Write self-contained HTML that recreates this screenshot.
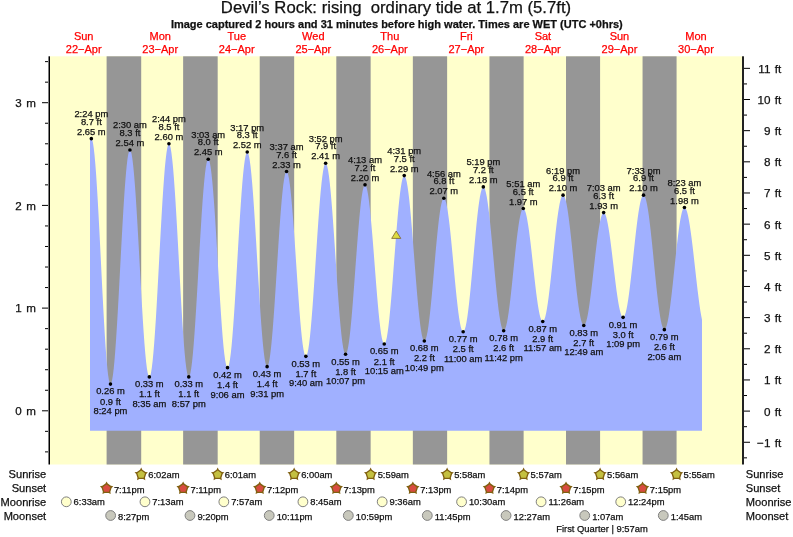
<!DOCTYPE html>
<html><head><meta charset="utf-8"><style>html,body{margin:0;padding:0;background:#fff;width:793px;height:537px;overflow:hidden;position:relative}svg{display:block;position:absolute;left:0;top:0}text{font-family:"Liberation Sans",sans-serif}#tx{will-change:transform}#tx text{stroke-width:0.25px}</style></head>
<body><svg width="793" height="537" viewBox="0 0 793 537">
<rect x="50" y="56.3" width="692" height="408.2" fill="#FFFFCC"/>
<rect x="106.60" y="56.3" width="34.60" height="408.2" fill="#969696"/>
<rect x="183.13" y="56.3" width="34.55" height="408.2" fill="#969696"/>
<rect x="259.72" y="56.3" width="34.44" height="408.2" fill="#969696"/>
<rect x="336.31" y="56.3" width="34.33" height="408.2" fill="#969696"/>
<rect x="412.85" y="56.3" width="34.28" height="408.2" fill="#969696"/>
<rect x="489.44" y="56.3" width="34.18" height="408.2" fill="#969696"/>
<rect x="566.02" y="56.3" width="34.07" height="408.2" fill="#969696"/>
<rect x="642.56" y="56.3" width="34.02" height="408.2" fill="#969696"/>
<polygon points="90.00,430.70 90.00,138.65 91.34,138.65 92.14,139.69 92.94,142.83 93.73,147.99 94.53,155.09 95.33,164.01 96.13,174.59 96.92,186.66 97.72,200.01 98.52,214.41 99.31,229.61 100.11,245.35 100.91,261.37 101.71,277.39 102.50,293.14 103.30,308.34 104.10,322.73 104.89,336.08 105.69,348.15 106.49,358.74 107.29,367.66 108.08,374.76 108.88,379.92 109.68,383.05 110.48,384.10 111.29,383.10 112.10,380.11 112.91,375.19 113.72,368.41 114.53,359.90 115.34,349.81 116.15,338.29 116.96,325.56 117.77,311.82 118.58,297.32 119.39,282.30 120.20,267.02 121.01,251.74 121.82,236.72 122.63,222.22 123.44,208.48 124.25,195.75 125.07,184.23 125.88,174.14 126.69,165.63 127.50,158.85 128.31,153.93 129.12,150.94 129.93,149.94 130.74,150.91 131.55,153.81 132.35,158.58 133.16,165.15 133.97,173.39 134.78,183.18 135.59,194.34 136.40,206.68 137.20,220.00 138.01,234.05 138.82,248.61 139.63,263.43 140.44,278.24 141.25,292.80 142.05,306.85 142.86,320.17 143.67,332.51 144.48,343.67 145.29,353.46 146.09,361.71 146.90,368.27 147.71,373.04 148.52,375.94 149.33,376.91 150.15,375.91 150.96,372.94 151.78,368.04 152.60,361.29 153.41,352.82 154.23,342.77 155.05,331.30 155.87,318.63 156.68,304.95 157.50,290.51 158.32,275.56 159.13,260.34 159.95,245.13 160.77,230.18 161.59,215.74 162.40,202.06 163.22,189.38 164.04,177.92 164.85,167.87 165.67,159.40 166.49,152.65 167.31,147.75 168.12,144.78 168.94,143.78 169.77,144.78 170.59,147.75 171.42,152.65 172.24,159.40 173.07,167.87 173.90,177.92 174.72,189.38 175.55,202.06 176.37,215.74 177.20,230.18 178.03,245.13 178.85,260.34 179.68,275.56 180.51,290.51 181.33,304.95 182.16,318.63 182.98,331.30 183.81,342.77 184.64,352.82 185.46,361.29 186.29,368.04 187.11,372.94 187.94,375.91 188.77,376.91 189.58,375.98 190.39,373.20 191.20,368.62 192.01,362.32 192.82,354.41 193.63,345.02 194.44,334.32 195.25,322.48 196.06,309.71 196.87,296.22 197.68,282.26 198.49,268.05 199.30,253.84 200.11,239.87 200.92,226.39 201.73,213.62 202.54,201.78 203.36,191.07 204.17,181.68 204.98,173.77 205.79,167.47 206.60,162.89 207.41,160.12 208.22,159.18 209.02,160.08 209.83,162.74 210.63,167.12 211.43,173.15 212.24,180.73 213.04,189.72 213.85,199.97 214.65,211.31 215.45,223.53 216.26,236.45 217.06,249.82 217.87,263.43 218.67,277.03 219.47,290.40 220.28,303.32 221.08,315.55 221.88,326.88 222.69,337.13 223.49,346.13 224.30,353.70 225.10,359.73 225.90,364.11 226.71,366.77 227.51,367.67 228.33,366.74 229.16,363.99 229.98,359.46 230.80,353.22 231.62,345.38 232.44,336.08 233.26,325.48 234.08,313.75 234.91,301.10 235.73,287.74 236.55,273.91 237.37,259.83 238.19,245.76 239.01,231.92 239.84,218.56 240.66,205.91 241.48,194.19 242.30,183.58 243.12,174.28 243.94,166.44 244.77,160.20 245.59,155.67 246.41,152.92 247.23,152.00 248.06,152.91 248.89,155.65 249.72,160.17 250.54,166.37 251.37,174.17 252.20,183.43 253.03,193.98 253.86,205.66 254.68,218.25 255.51,231.54 256.34,245.31 257.17,259.32 258.00,273.33 258.83,287.09 259.65,300.39 260.48,312.98 261.31,324.65 262.14,335.21 262.97,344.46 263.80,352.26 264.62,358.47 265.45,362.98 266.28,365.72 267.11,366.64 267.92,365.80 268.73,363.31 269.54,359.21 270.35,353.57 271.16,346.48 271.97,338.06 272.78,328.47 273.59,317.86 274.40,306.41 275.21,294.33 276.02,281.81 276.84,269.07 277.65,256.34 278.46,243.82 279.27,231.74 280.08,220.29 280.89,209.68 281.70,200.09 282.51,191.67 283.32,184.58 284.13,178.94 284.94,174.83 285.75,172.34 286.56,171.51 287.37,172.30 288.17,174.66 288.97,178.54 289.78,183.89 290.58,190.61 291.38,198.58 292.19,207.67 292.99,217.72 293.80,228.57 294.60,240.02 295.40,251.87 296.21,263.94 297.01,276.00 297.82,287.86 298.62,299.31 299.42,310.15 300.23,320.21 301.03,329.30 301.84,337.27 302.64,343.99 303.44,349.33 304.25,353.22 305.05,355.58 305.86,356.37 306.68,355.54 307.50,353.08 308.33,349.02 309.15,343.44 309.97,336.42 310.80,328.09 311.62,318.60 312.45,308.10 313.27,296.77 314.09,284.82 314.92,272.43 315.74,259.83 316.56,247.23 317.39,234.85 318.21,222.89 319.04,211.56 319.86,201.06 320.68,191.57 321.51,183.24 322.33,176.23 323.16,170.64 323.98,166.58 324.80,164.12 325.63,163.29 326.46,164.11 327.29,166.55 328.12,170.56 328.95,176.09 329.78,183.03 330.61,191.27 331.44,200.66 332.27,211.05 333.10,222.25 333.93,234.08 334.76,246.34 335.59,258.80 336.42,271.27 337.25,283.52 338.08,295.35 338.91,306.56 339.74,316.95 340.58,326.34 341.41,334.58 342.24,341.52 343.07,347.04 343.90,351.06 344.73,353.50 345.56,354.31 346.37,353.59 347.18,351.43 347.99,347.87 348.80,342.96 349.61,336.81 350.42,329.50 351.23,321.17 352.04,311.95 352.85,302.01 353.66,291.52 354.47,280.65 355.28,269.59 356.10,258.53 356.91,247.66 357.72,237.16 358.53,227.22 359.34,218.01 360.15,209.68 360.96,202.37 361.77,196.21 362.58,191.31 363.39,187.75 364.20,185.58 365.01,184.86 365.81,185.54 366.61,187.57 367.42,190.92 368.22,195.52 369.02,201.31 369.82,208.17 370.62,216.00 371.42,224.66 372.23,233.99 373.03,243.85 373.83,254.06 374.63,264.45 375.43,274.84 376.23,285.05 377.04,294.91 377.84,304.25 378.64,312.91 379.44,320.73 380.24,327.60 381.04,333.38 381.85,337.99 382.65,341.33 383.45,343.36 384.25,344.05 385.08,343.32 385.92,341.18 386.75,337.63 387.58,332.76 388.41,326.64 389.25,319.38 390.08,311.10 390.91,301.94 391.75,292.06 392.58,281.63 393.41,270.82 394.24,259.83 395.08,248.84 395.91,238.03 396.74,227.60 397.57,217.72 398.41,208.56 399.24,200.28 400.07,193.02 400.90,186.90 401.74,182.03 402.57,178.49 403.40,176.34 404.24,175.62 405.07,176.32 405.91,178.43 406.75,181.91 407.58,186.69 408.42,192.70 409.26,199.83 410.10,207.96 410.93,216.95 411.77,226.65 412.61,236.89 413.44,247.50 414.28,258.29 415.12,269.08 415.96,279.69 416.79,289.93 417.63,299.63 418.47,308.62 419.30,316.75 420.14,323.88 420.98,329.89 421.82,334.67 422.65,338.15 423.49,340.26 424.33,340.96 425.14,340.35 425.95,338.53 426.76,335.53 427.58,331.40 428.39,326.21 429.20,320.06 430.02,313.04 430.83,305.28 431.64,296.90 432.45,288.06 433.27,278.90 434.08,269.59 434.89,260.27 435.70,251.11 436.52,242.27 437.33,233.90 438.14,226.14 438.96,219.12 439.77,212.96 440.58,207.77 441.39,203.64 442.21,200.64 443.02,198.82 443.83,198.21 444.64,198.78 445.44,200.49 446.25,203.29 447.06,207.15 447.86,212.01 448.67,217.76 449.48,224.33 450.28,231.59 451.09,239.42 451.89,247.69 452.70,256.25 453.51,264.97 454.31,273.68 455.12,282.24 455.92,290.51 456.73,298.34 457.54,305.60 458.34,312.17 459.15,317.93 459.95,322.78 460.76,326.64 461.57,329.45 462.37,331.15 463.18,331.72 464.02,331.10 464.86,329.25 465.70,326.21 466.54,322.02 467.38,316.76 468.21,310.51 469.05,303.39 469.89,295.52 470.73,287.03 471.57,278.06 472.41,268.77 473.25,259.32 474.09,249.87 474.93,240.58 475.77,231.61 476.61,223.12 477.45,215.24 478.29,208.12 479.13,201.88 479.97,196.61 480.80,192.43 481.64,189.38 482.48,187.53 483.32,186.91 484.17,187.53 485.02,189.36 485.87,192.39 486.72,196.55 487.56,201.77 488.41,207.97 489.26,215.04 490.11,222.86 490.96,231.29 491.80,240.20 492.65,249.42 493.50,258.80 494.35,268.19 495.20,277.41 496.05,286.32 496.89,294.75 497.74,302.57 498.59,309.64 499.44,315.84 500.29,321.06 501.13,325.22 501.98,328.24 502.83,330.08 503.68,330.69 504.50,330.17 505.31,328.61 506.13,326.04 506.95,322.51 507.77,318.07 508.58,312.80 509.40,306.79 510.22,300.14 511.03,292.97 511.85,285.40 512.67,277.56 513.49,269.59 514.30,261.61 515.12,253.77 515.94,246.20 516.75,239.03 517.57,232.39 518.39,226.38 519.21,221.11 520.02,216.67 520.84,213.13 521.66,210.56 522.47,209.00 523.29,208.48 524.10,208.96 524.91,210.41 525.72,212.78 526.53,216.05 527.34,220.15 528.15,225.03 528.97,230.58 529.78,236.72 530.59,243.35 531.40,250.35 532.21,257.59 533.02,264.97 533.83,272.34 534.64,279.59 535.45,286.58 536.26,293.21 537.07,299.35 537.88,304.91 538.69,309.78 539.50,313.88 540.31,317.15 541.12,319.53 541.93,320.97 542.74,321.45 543.59,320.91 544.44,319.30 545.28,316.64 546.13,312.99 546.97,308.40 547.82,302.95 548.67,296.74 549.51,289.87 550.36,282.46 551.20,274.64 552.05,266.53 552.90,258.29 553.74,250.05 554.59,241.94 555.43,234.12 556.28,226.71 557.13,219.84 557.97,213.63 558.82,208.18 559.66,203.59 560.51,199.94 561.36,197.28 562.20,195.67 563.05,195.13 563.91,195.69 564.78,197.35 565.64,200.09 566.50,203.87 567.37,208.61 568.23,214.23 569.09,220.64 569.96,227.74 570.82,235.39 571.68,243.47 572.55,251.83 573.41,260.34 574.28,268.86 575.14,277.22 576.00,285.30 576.87,292.95 577.73,300.04 578.59,306.46 579.46,312.08 580.32,316.82 581.19,320.59 582.05,323.34 582.91,325.00 583.78,325.56 584.60,325.08 585.43,323.63 586.26,321.26 587.09,317.99 587.92,313.89 588.75,309.01 589.57,303.46 590.40,297.32 591.23,290.69 592.06,283.69 592.89,276.45 593.72,269.07 594.54,261.70 595.37,254.45 596.20,247.46 597.03,240.83 597.86,234.69 598.68,229.13 599.51,224.26 600.34,220.16 601.17,216.89 602.00,214.51 602.83,213.07 603.65,212.59 604.46,213.04 605.28,214.37 606.09,216.58 606.90,219.61 607.71,223.41 608.52,227.93 609.33,233.08 610.14,238.78 610.95,244.92 611.76,251.41 612.57,258.13 613.38,264.97 614.19,271.80 615.00,278.52 615.81,285.01 616.62,291.15 617.43,296.85 618.24,302.00 619.05,306.52 619.87,310.33 620.68,313.36 621.49,315.56 622.30,316.89 623.11,317.34 623.96,316.82 624.81,315.26 625.66,312.69 626.51,309.16 627.36,304.72 628.21,299.45 629.06,293.44 629.91,286.79 630.76,279.62 631.61,272.05 632.46,264.21 633.31,256.24 634.16,248.26 635.01,240.42 635.86,232.85 636.71,225.68 637.56,219.04 638.41,213.03 639.26,207.76 640.12,203.32 640.97,199.78 641.82,197.21 642.67,195.65 643.52,195.13 644.39,195.71 645.25,197.42 646.12,200.25 646.99,204.14 647.86,209.03 648.73,214.83 649.59,221.45 650.46,228.76 651.33,236.66 652.20,244.99 653.07,253.62 653.93,262.40 654.80,271.18 655.67,279.81 656.54,288.14 657.41,296.03 658.27,303.35 659.14,309.96 660.01,315.77 660.88,320.65 661.75,324.55 662.62,327.37 663.48,329.09 664.35,329.67 665.19,329.14 666.03,327.58 666.86,325.02 667.70,321.48 668.54,317.04 669.37,311.77 670.21,305.76 671.05,299.11 671.89,291.94 672.72,284.38 673.56,276.54 674.40,268.56 675.23,260.58 676.07,252.74 676.91,245.18 677.75,238.01 678.58,231.36 679.42,225.35 680.26,220.08 681.09,215.64 681.93,212.11 682.77,209.54 683.61,207.98 684.44,207.45 685.33,207.97 686.21,209.52 687.10,212.07 687.99,215.57 688.87,219.98 689.76,225.20 690.64,231.16 691.53,237.75 692.41,244.86 693.30,252.36 694.19,260.14 695.07,268.05 695.96,275.96 696.84,283.73 697.73,291.23 698.62,298.34 699.50,304.93 700.39,310.89 701.27,316.12 702.00,319.80 702.00,430.70" fill="#A0B0FF"/>
<rect x="48.5" y="56.3" width="1.5" height="408.2" fill="#000"/>
<rect x="742" y="56.3" width="2" height="408.2" fill="#222"/>
<rect x="45" y="451.38" width="3" height="1" fill="#000"/>
<rect x="45" y="430.84" width="3" height="1" fill="#000"/>
<rect x="42" y="410.30" width="6" height="1" fill="#000"/>
<rect x="45" y="389.76" width="3" height="1" fill="#000"/>
<rect x="45" y="369.22" width="3" height="1" fill="#000"/>
<rect x="45" y="348.68" width="3" height="1" fill="#000"/>
<rect x="45" y="328.14" width="3" height="1" fill="#000"/>
<rect x="42" y="307.60" width="6" height="1" fill="#000"/>
<rect x="45" y="287.06" width="3" height="1" fill="#000"/>
<rect x="45" y="266.52" width="3" height="1" fill="#000"/>
<rect x="45" y="245.98" width="3" height="1" fill="#000"/>
<rect x="45" y="225.44" width="3" height="1" fill="#000"/>
<rect x="42" y="204.90" width="6" height="1" fill="#000"/>
<rect x="45" y="184.36" width="3" height="1" fill="#000"/>
<rect x="45" y="163.82" width="3" height="1" fill="#000"/>
<rect x="45" y="143.28" width="3" height="1" fill="#000"/>
<rect x="45" y="122.74" width="3" height="1" fill="#000"/>
<rect x="42" y="102.20" width="6" height="1" fill="#000"/>
<rect x="45" y="81.66" width="3" height="1" fill="#000"/>
<rect x="45" y="61.12" width="3" height="1" fill="#000"/>
<rect x="744" y="457.34" width="3" height="1" fill="#000"/>
<rect x="744" y="441.76" width="6" height="1" fill="#000"/>
<rect x="744" y="426.18" width="3" height="1" fill="#000"/>
<rect x="744" y="410.60" width="6" height="1" fill="#000"/>
<rect x="744" y="395.02" width="3" height="1" fill="#000"/>
<rect x="744" y="379.44" width="6" height="1" fill="#000"/>
<rect x="744" y="363.86" width="3" height="1" fill="#000"/>
<rect x="744" y="348.28" width="6" height="1" fill="#000"/>
<rect x="744" y="332.70" width="3" height="1" fill="#000"/>
<rect x="744" y="317.12" width="6" height="1" fill="#000"/>
<rect x="744" y="301.54" width="3" height="1" fill="#000"/>
<rect x="744" y="285.96" width="6" height="1" fill="#000"/>
<rect x="744" y="270.38" width="3" height="1" fill="#000"/>
<rect x="744" y="254.80" width="6" height="1" fill="#000"/>
<rect x="744" y="239.22" width="3" height="1" fill="#000"/>
<rect x="744" y="223.64" width="6" height="1" fill="#000"/>
<rect x="744" y="208.06" width="3" height="1" fill="#000"/>
<rect x="744" y="192.48" width="6" height="1" fill="#000"/>
<rect x="744" y="176.90" width="3" height="1" fill="#000"/>
<rect x="744" y="161.32" width="6" height="1" fill="#000"/>
<rect x="744" y="145.74" width="3" height="1" fill="#000"/>
<rect x="744" y="130.16" width="6" height="1" fill="#000"/>
<rect x="744" y="114.58" width="3" height="1" fill="#000"/>
<rect x="744" y="99.00" width="6" height="1" fill="#000"/>
<rect x="744" y="83.42" width="3" height="1" fill="#000"/>
<rect x="744" y="67.84" width="6" height="1" fill="#000"/>
<circle cx="91.34" cy="138.65" r="1.8" fill="#000"/>
<circle cx="110.48" cy="384.10" r="1.8" fill="#000"/>
<circle cx="129.93" cy="149.94" r="1.8" fill="#000"/>
<circle cx="149.33" cy="376.91" r="1.8" fill="#000"/>
<circle cx="168.94" cy="143.78" r="1.8" fill="#000"/>
<circle cx="188.77" cy="376.91" r="1.8" fill="#000"/>
<circle cx="208.22" cy="159.18" r="1.8" fill="#000"/>
<circle cx="227.51" cy="367.67" r="1.8" fill="#000"/>
<circle cx="247.23" cy="152.00" r="1.8" fill="#000"/>
<circle cx="267.11" cy="366.64" r="1.8" fill="#000"/>
<circle cx="286.56" cy="171.51" r="1.8" fill="#000"/>
<circle cx="305.86" cy="356.37" r="1.8" fill="#000"/>
<circle cx="325.63" cy="163.29" r="1.8" fill="#000"/>
<circle cx="345.56" cy="354.31" r="1.8" fill="#000"/>
<circle cx="365.01" cy="184.86" r="1.8" fill="#000"/>
<circle cx="384.25" cy="344.05" r="1.8" fill="#000"/>
<circle cx="404.24" cy="175.62" r="1.8" fill="#000"/>
<circle cx="424.33" cy="340.96" r="1.8" fill="#000"/>
<circle cx="443.83" cy="198.21" r="1.8" fill="#000"/>
<circle cx="463.18" cy="331.72" r="1.8" fill="#000"/>
<circle cx="483.32" cy="186.91" r="1.8" fill="#000"/>
<circle cx="503.68" cy="330.69" r="1.8" fill="#000"/>
<circle cx="523.29" cy="208.48" r="1.8" fill="#000"/>
<circle cx="542.74" cy="321.45" r="1.8" fill="#000"/>
<circle cx="563.05" cy="195.13" r="1.8" fill="#000"/>
<circle cx="583.78" cy="325.56" r="1.8" fill="#000"/>
<circle cx="603.65" cy="212.59" r="1.8" fill="#000"/>
<circle cx="623.11" cy="317.34" r="1.8" fill="#000"/>
<circle cx="643.52" cy="195.13" r="1.8" fill="#000"/>
<circle cx="664.35" cy="329.67" r="1.8" fill="#000"/>
<circle cx="684.44" cy="207.45" r="1.8" fill="#000"/>
<polygon points="396.2,231 391.7,238.4 400.8,238.4" fill="#DCDC40" stroke="#705020" stroke-width="0.7"/>
<polygon points="140.07,469.63 141.20,467.50 142.32,469.63 145.48,471.92 147.85,472.34 146.18,474.06 144.97,477.78 145.31,480.16 143.15,479.10 139.24,479.10 137.08,480.16 137.42,477.78 136.22,474.06 134.54,472.34 136.91,471.92" fill="#806010"/><polygon points="141.20,470.50 145.00,473.26 143.55,477.74 138.85,477.74 137.39,473.26" fill="#C4C040"/>
<polygon points="216.55,469.63 217.68,467.50 218.80,469.63 221.96,471.92 224.34,472.34 222.66,474.06 221.45,477.78 221.79,480.16 219.63,479.10 215.73,479.10 213.56,480.16 213.91,477.78 212.70,474.06 211.02,472.34 213.39,471.92" fill="#806010"/><polygon points="217.68,470.50 221.48,473.26 220.03,477.74 215.33,477.74 213.87,473.26" fill="#C4C040"/>
<polygon points="293.04,469.63 294.16,467.50 295.29,469.63 298.45,471.92 300.82,472.34 299.14,474.06 297.94,477.78 298.28,480.16 296.12,479.10 292.21,479.10 290.05,480.16 290.39,477.78 289.18,474.06 287.50,472.34 289.88,471.92" fill="#806010"/><polygon points="294.16,470.50 297.97,473.26 296.51,477.74 291.81,477.74 290.36,473.26" fill="#C4C040"/>
<polygon points="369.52,469.63 370.64,467.50 371.77,469.63 374.93,471.92 377.30,472.34 375.63,474.06 374.42,477.78 374.76,480.16 372.60,479.10 368.69,479.10 366.53,480.16 366.87,477.78 365.66,474.06 363.99,472.34 366.36,471.92" fill="#806010"/><polygon points="370.64,470.50 374.45,473.26 373.00,477.74 368.29,477.74 366.84,473.26" fill="#C4C040"/>
<polygon points="446.00,469.63 447.13,467.50 448.25,469.63 451.41,471.92 453.79,472.34 452.11,474.06 450.90,477.78 451.24,480.16 449.08,479.10 445.17,479.10 443.01,480.16 443.35,477.78 442.15,474.06 440.47,472.34 442.84,471.92" fill="#806010"/><polygon points="447.13,470.50 450.93,473.26 449.48,477.74 444.78,477.74 443.32,473.26" fill="#C4C040"/>
<polygon points="522.49,469.63 523.61,467.50 524.74,469.63 527.90,471.92 530.27,472.34 528.59,474.06 527.38,477.78 527.73,480.16 525.56,479.10 521.66,479.10 519.50,480.16 519.84,477.78 518.63,474.06 516.95,472.34 519.32,471.92" fill="#806010"/><polygon points="523.61,470.50 527.41,473.26 525.96,477.74 521.26,477.74 519.81,473.26" fill="#C4C040"/>
<polygon points="598.97,469.63 600.09,467.50 601.22,469.63 604.38,471.92 606.75,472.34 605.07,474.06 603.87,477.78 604.21,480.16 602.05,479.10 598.14,479.10 595.98,480.16 596.32,477.78 595.11,474.06 593.44,472.34 595.81,471.92" fill="#806010"/><polygon points="600.09,470.50 603.90,473.26 602.44,477.74 597.74,477.74 596.29,473.26" fill="#C4C040"/>
<polygon points="675.45,469.63 676.58,467.50 677.70,469.63 680.86,471.92 683.23,472.34 681.56,474.06 680.35,477.78 680.69,480.16 678.53,479.10 674.62,479.10 672.46,480.16 672.80,477.78 671.60,474.06 669.92,472.34 672.29,471.92" fill="#806010"/><polygon points="676.58,470.50 680.38,473.26 678.93,477.74 674.23,477.74 672.77,473.26" fill="#C4C040"/>
<polygon points="105.47,483.53 106.60,481.40 107.72,483.53 110.88,485.82 113.25,486.24 111.58,487.96 110.37,491.68 110.71,494.06 108.55,493.00 104.64,493.00 102.48,494.06 102.82,491.68 101.61,487.96 99.94,486.24 102.31,485.82" fill="#806010"/><polygon points="106.60,484.40 110.40,487.16 108.95,491.64 104.24,491.64 102.79,487.16" fill="#D84C40"/>
<polygon points="182.01,483.53 183.13,481.40 184.26,483.53 187.42,485.82 189.79,486.24 188.11,487.96 186.91,491.68 187.25,494.06 185.09,493.00 181.18,493.00 179.02,494.06 179.36,491.68 178.15,487.96 176.47,486.24 178.85,485.82" fill="#806010"/><polygon points="183.13,484.40 186.94,487.16 185.48,491.64 180.78,491.64 179.33,487.16" fill="#D84C40"/>
<polygon points="258.60,483.53 259.72,481.40 260.85,483.53 264.01,485.82 266.38,486.24 264.70,487.96 263.49,491.68 263.84,494.06 261.67,493.00 257.77,493.00 255.61,494.06 255.95,491.68 254.74,487.96 253.06,486.24 255.43,485.82" fill="#806010"/><polygon points="259.72,484.40 263.53,487.16 262.07,491.64 257.37,491.64 255.92,487.16" fill="#D84C40"/>
<polygon points="335.19,483.53 336.31,481.40 337.43,483.53 340.60,485.82 342.97,486.24 341.29,487.96 340.08,491.68 340.42,494.06 338.26,493.00 334.36,493.00 332.20,494.06 332.54,491.68 331.33,487.96 329.65,486.24 332.02,485.82" fill="#806010"/><polygon points="336.31,484.40 340.11,487.16 338.66,491.64 333.96,491.64 332.51,487.16" fill="#D84C40"/>
<polygon points="411.72,483.53 412.85,481.40 413.97,483.53 417.13,485.82 419.50,486.24 417.83,487.96 416.62,491.68 416.96,494.06 414.80,493.00 410.89,493.00 408.73,494.06 409.07,491.68 407.86,487.96 406.19,486.24 408.56,485.82" fill="#806010"/><polygon points="412.85,484.40 416.65,487.16 415.20,491.64 410.49,491.64 409.04,487.16" fill="#D84C40"/>
<polygon points="488.31,483.53 489.44,481.40 490.56,483.53 493.72,485.82 496.09,486.24 494.42,487.96 493.21,491.68 493.55,494.06 491.39,493.00 487.48,493.00 485.32,494.06 485.66,491.68 484.45,487.96 482.78,486.24 485.15,485.82" fill="#806010"/><polygon points="489.44,484.40 493.24,487.16 491.79,491.64 487.08,491.64 485.63,487.16" fill="#D84C40"/>
<polygon points="564.90,483.53 566.02,481.40 567.15,483.53 570.31,485.82 572.68,486.24 571.01,487.96 569.80,491.68 570.14,494.06 567.98,493.00 564.07,493.00 561.91,494.06 562.25,491.68 561.04,487.96 559.37,486.24 561.74,485.82" fill="#806010"/><polygon points="566.02,484.40 569.83,487.16 568.38,491.64 563.67,491.64 562.22,487.16" fill="#D84C40"/>
<polygon points="641.44,483.53 642.56,481.40 643.69,483.53 646.85,485.82 649.22,486.24 647.54,487.96 646.33,491.68 646.67,494.06 644.51,493.00 640.61,493.00 638.45,494.06 638.79,491.68 637.58,487.96 635.90,486.24 638.27,485.82" fill="#806010"/><polygon points="642.56,484.40 646.36,487.16 644.91,491.64 640.21,491.64 638.76,487.16" fill="#D84C40"/>
<circle cx="66.31" cy="501.8" r="4.9" fill="#FFFFCC" stroke="#808080" stroke-width="1"/>
<circle cx="144.97" cy="501.8" r="4.9" fill="#FFFFCC" stroke="#808080" stroke-width="1"/>
<circle cx="223.84" cy="501.8" r="4.9" fill="#FFFFCC" stroke="#808080" stroke-width="1"/>
<circle cx="302.93" cy="501.8" r="4.9" fill="#FFFFCC" stroke="#808080" stroke-width="1"/>
<circle cx="382.18" cy="501.8" r="4.9" fill="#FFFFCC" stroke="#808080" stroke-width="1"/>
<circle cx="461.58" cy="501.8" r="4.9" fill="#FFFFCC" stroke="#808080" stroke-width="1"/>
<circle cx="541.10" cy="501.8" r="4.9" fill="#FFFFCC" stroke="#808080" stroke-width="1"/>
<circle cx="620.72" cy="501.8" r="4.9" fill="#FFFFCC" stroke="#808080" stroke-width="1"/>
<circle cx="110.64" cy="515.5" r="4.9" fill="#C8C8BC" stroke="#808080" stroke-width="1"/>
<circle cx="189.99" cy="515.5" r="4.9" fill="#C8C8BC" stroke="#808080" stroke-width="1"/>
<circle cx="269.23" cy="515.5" r="4.9" fill="#C8C8BC" stroke="#808080" stroke-width="1"/>
<circle cx="348.32" cy="515.5" r="4.9" fill="#C8C8BC" stroke="#808080" stroke-width="1"/>
<circle cx="427.30" cy="515.5" r="4.9" fill="#C8C8BC" stroke="#808080" stroke-width="1"/>
<circle cx="506.07" cy="515.5" r="4.9" fill="#C8C8BC" stroke="#808080" stroke-width="1"/>
<circle cx="584.73" cy="515.5" r="4.9" fill="#C8C8BC" stroke="#808080" stroke-width="1"/>
<circle cx="663.29" cy="515.5" r="4.9" fill="#C8C8BC" stroke="#808080" stroke-width="1"/>
</svg><svg id="tx" width="793" height="537" viewBox="0 0 793 537" fill="#111" stroke="#111">
<text x="35.8" y="415.00" font-size="11.6" word-spacing="1.3" text-anchor="end">0 m</text>
<text x="35.8" y="312.30" font-size="11.6" word-spacing="1.3" text-anchor="end">1 m</text>
<text x="35.8" y="209.60" font-size="11.6" word-spacing="1.3" text-anchor="end">2 m</text>
<text x="35.8" y="106.90" font-size="11.6" word-spacing="1.3" text-anchor="end">3 m</text>
<text x="781.2" y="446.66" font-size="11.7" word-spacing="1" text-anchor="end">−1 ft</text>
<text x="781.2" y="415.50" font-size="11.7" word-spacing="1" text-anchor="end">0 ft</text>
<text x="781.2" y="384.34" font-size="11.7" word-spacing="1" text-anchor="end">1 ft</text>
<text x="781.2" y="353.18" font-size="11.7" word-spacing="1" text-anchor="end">2 ft</text>
<text x="781.2" y="322.02" font-size="11.7" word-spacing="1" text-anchor="end">3 ft</text>
<text x="781.2" y="290.86" font-size="11.7" word-spacing="1" text-anchor="end">4 ft</text>
<text x="781.2" y="259.70" font-size="11.7" word-spacing="1" text-anchor="end">5 ft</text>
<text x="781.2" y="228.54" font-size="11.7" word-spacing="1" text-anchor="end">6 ft</text>
<text x="781.2" y="197.38" font-size="11.7" word-spacing="1" text-anchor="end">7 ft</text>
<text x="781.2" y="166.22" font-size="11.7" word-spacing="1" text-anchor="end">8 ft</text>
<text x="781.2" y="135.06" font-size="11.7" word-spacing="1" text-anchor="end">9 ft</text>
<text x="781.2" y="103.90" font-size="11.7" word-spacing="1" text-anchor="end">10 ft</text>
<text x="781.2" y="72.74" font-size="11.7" word-spacing="1" text-anchor="end">11 ft</text>
<text x="83.69" y="39.5" font-size="11" fill="#FF0000" stroke="#FF0000" text-anchor="middle">Sun</text>
<text x="83.69" y="52.9" font-size="11" fill="#FF0000" stroke="#FF0000" text-anchor="middle">22−Apr</text>
<text x="160.22" y="39.5" font-size="11" fill="#FF0000" stroke="#FF0000" text-anchor="middle">Mon</text>
<text x="160.22" y="52.9" font-size="11" fill="#FF0000" stroke="#FF0000" text-anchor="middle">23−Apr</text>
<text x="236.76" y="39.5" font-size="11" fill="#FF0000" stroke="#FF0000" text-anchor="middle">Tue</text>
<text x="236.76" y="52.9" font-size="11" fill="#FF0000" stroke="#FF0000" text-anchor="middle">24−Apr</text>
<text x="313.30" y="39.5" font-size="11" fill="#FF0000" stroke="#FF0000" text-anchor="middle">Wed</text>
<text x="313.30" y="52.9" font-size="11" fill="#FF0000" stroke="#FF0000" text-anchor="middle">25−Apr</text>
<text x="389.83" y="39.5" font-size="11" fill="#FF0000" stroke="#FF0000" text-anchor="middle">Thu</text>
<text x="389.83" y="52.9" font-size="11" fill="#FF0000" stroke="#FF0000" text-anchor="middle">26−Apr</text>
<text x="466.37" y="39.5" font-size="11" fill="#FF0000" stroke="#FF0000" text-anchor="middle">Fri</text>
<text x="466.37" y="52.9" font-size="11" fill="#FF0000" stroke="#FF0000" text-anchor="middle">27−Apr</text>
<text x="542.90" y="39.5" font-size="11" fill="#FF0000" stroke="#FF0000" text-anchor="middle">Sat</text>
<text x="542.90" y="52.9" font-size="11" fill="#FF0000" stroke="#FF0000" text-anchor="middle">28−Apr</text>
<text x="619.44" y="39.5" font-size="11" fill="#FF0000" stroke="#FF0000" text-anchor="middle">Sun</text>
<text x="619.44" y="52.9" font-size="11" fill="#FF0000" stroke="#FF0000" text-anchor="middle">29−Apr</text>
<text x="695.98" y="39.5" font-size="11" fill="#FF0000" stroke="#FF0000" text-anchor="middle">Mon</text>
<text x="695.98" y="52.9" font-size="11" fill="#FF0000" stroke="#FF0000" text-anchor="middle">30−Apr</text>
<text x="91.34" y="134.85" font-size="9.4" text-anchor="middle">2.65 m</text>
<text x="91.34" y="124.85" font-size="9.4" text-anchor="middle">8.7 ft</text>
<text x="91.34" y="117.15" font-size="9.4" text-anchor="middle">2:24 pm</text>
<text x="110.48" y="394.40" font-size="9.4" text-anchor="middle">0.26 m</text>
<text x="110.48" y="404.60" font-size="9.4" text-anchor="middle">0.9 ft</text>
<text x="110.48" y="414.00" font-size="9.4" text-anchor="middle">8:24 pm</text>
<text x="129.93" y="146.14" font-size="9.4" text-anchor="middle">2.54 m</text>
<text x="129.93" y="136.14" font-size="9.4" text-anchor="middle">8.3 ft</text>
<text x="129.93" y="128.44" font-size="9.4" text-anchor="middle">2:30 am</text>
<text x="149.33" y="387.21" font-size="9.4" text-anchor="middle">0.33 m</text>
<text x="149.33" y="397.41" font-size="9.4" text-anchor="middle">1.1 ft</text>
<text x="149.33" y="406.81" font-size="9.4" text-anchor="middle">8:35 am</text>
<text x="168.94" y="139.98" font-size="9.4" text-anchor="middle">2.60 m</text>
<text x="168.94" y="129.98" font-size="9.4" text-anchor="middle">8.5 ft</text>
<text x="168.94" y="122.28" font-size="9.4" text-anchor="middle">2:44 pm</text>
<text x="188.77" y="387.21" font-size="9.4" text-anchor="middle">0.33 m</text>
<text x="188.77" y="397.41" font-size="9.4" text-anchor="middle">1.1 ft</text>
<text x="188.77" y="406.81" font-size="9.4" text-anchor="middle">8:57 pm</text>
<text x="208.22" y="155.38" font-size="9.4" text-anchor="middle">2.45 m</text>
<text x="208.22" y="145.38" font-size="9.4" text-anchor="middle">8.0 ft</text>
<text x="208.22" y="137.68" font-size="9.4" text-anchor="middle">3:03 am</text>
<text x="227.51" y="377.97" font-size="9.4" text-anchor="middle">0.42 m</text>
<text x="227.51" y="388.17" font-size="9.4" text-anchor="middle">1.4 ft</text>
<text x="227.51" y="397.57" font-size="9.4" text-anchor="middle">9:06 am</text>
<text x="247.23" y="148.20" font-size="9.4" text-anchor="middle">2.52 m</text>
<text x="247.23" y="138.20" font-size="9.4" text-anchor="middle">8.3 ft</text>
<text x="247.23" y="130.50" font-size="9.4" text-anchor="middle">3:17 pm</text>
<text x="267.11" y="376.94" font-size="9.4" text-anchor="middle">0.43 m</text>
<text x="267.11" y="387.14" font-size="9.4" text-anchor="middle">1.4 ft</text>
<text x="267.11" y="396.54" font-size="9.4" text-anchor="middle">9:31 pm</text>
<text x="286.56" y="167.71" font-size="9.4" text-anchor="middle">2.33 m</text>
<text x="286.56" y="157.71" font-size="9.4" text-anchor="middle">7.6 ft</text>
<text x="286.56" y="150.01" font-size="9.4" text-anchor="middle">3:37 am</text>
<text x="305.86" y="366.67" font-size="9.4" text-anchor="middle">0.53 m</text>
<text x="305.86" y="376.87" font-size="9.4" text-anchor="middle">1.7 ft</text>
<text x="305.86" y="386.27" font-size="9.4" text-anchor="middle">9:40 am</text>
<text x="325.63" y="159.49" font-size="9.4" text-anchor="middle">2.41 m</text>
<text x="325.63" y="149.49" font-size="9.4" text-anchor="middle">7.9 ft</text>
<text x="325.63" y="141.79" font-size="9.4" text-anchor="middle">3:52 pm</text>
<text x="345.56" y="364.62" font-size="9.4" text-anchor="middle">0.55 m</text>
<text x="345.56" y="374.81" font-size="9.4" text-anchor="middle">1.8 ft</text>
<text x="345.56" y="384.21" font-size="9.4" text-anchor="middle">10:07 pm</text>
<text x="365.01" y="181.06" font-size="9.4" text-anchor="middle">2.20 m</text>
<text x="365.01" y="171.06" font-size="9.4" text-anchor="middle">7.2 ft</text>
<text x="365.01" y="163.36" font-size="9.4" text-anchor="middle">4:13 am</text>
<text x="384.25" y="354.35" font-size="9.4" text-anchor="middle">0.65 m</text>
<text x="384.25" y="364.55" font-size="9.4" text-anchor="middle">2.1 ft</text>
<text x="384.25" y="373.94" font-size="9.4" text-anchor="middle">10:15 am</text>
<text x="404.24" y="171.82" font-size="9.4" text-anchor="middle">2.29 m</text>
<text x="404.24" y="161.82" font-size="9.4" text-anchor="middle">7.5 ft</text>
<text x="404.24" y="154.12" font-size="9.4" text-anchor="middle">4:31 pm</text>
<text x="424.33" y="351.26" font-size="9.4" text-anchor="middle">0.68 m</text>
<text x="424.33" y="361.46" font-size="9.4" text-anchor="middle">2.2 ft</text>
<text x="424.33" y="370.86" font-size="9.4" text-anchor="middle">10:49 pm</text>
<text x="443.83" y="194.41" font-size="9.4" text-anchor="middle">2.07 m</text>
<text x="443.83" y="184.41" font-size="9.4" text-anchor="middle">6.8 ft</text>
<text x="443.83" y="176.71" font-size="9.4" text-anchor="middle">4:56 am</text>
<text x="463.18" y="342.02" font-size="9.4" text-anchor="middle">0.77 m</text>
<text x="463.18" y="352.22" font-size="9.4" text-anchor="middle">2.5 ft</text>
<text x="463.18" y="361.62" font-size="9.4" text-anchor="middle">11:00 am</text>
<text x="483.32" y="183.11" font-size="9.4" text-anchor="middle">2.18 m</text>
<text x="483.32" y="173.11" font-size="9.4" text-anchor="middle">7.2 ft</text>
<text x="483.32" y="165.41" font-size="9.4" text-anchor="middle">5:19 pm</text>
<text x="503.68" y="340.99" font-size="9.4" text-anchor="middle">0.78 m</text>
<text x="503.68" y="351.19" font-size="9.4" text-anchor="middle">2.6 ft</text>
<text x="503.68" y="360.59" font-size="9.4" text-anchor="middle">11:42 pm</text>
<text x="523.29" y="204.68" font-size="9.4" text-anchor="middle">1.97 m</text>
<text x="523.29" y="194.68" font-size="9.4" text-anchor="middle">6.5 ft</text>
<text x="523.29" y="186.98" font-size="9.4" text-anchor="middle">5:51 am</text>
<text x="542.74" y="331.75" font-size="9.4" text-anchor="middle">0.87 m</text>
<text x="542.74" y="341.95" font-size="9.4" text-anchor="middle">2.9 ft</text>
<text x="542.74" y="351.35" font-size="9.4" text-anchor="middle">11:57 am</text>
<text x="563.05" y="191.33" font-size="9.4" text-anchor="middle">2.10 m</text>
<text x="563.05" y="181.33" font-size="9.4" text-anchor="middle">6.9 ft</text>
<text x="563.05" y="173.63" font-size="9.4" text-anchor="middle">6:19 pm</text>
<text x="583.78" y="335.86" font-size="9.4" text-anchor="middle">0.83 m</text>
<text x="583.78" y="346.06" font-size="9.4" text-anchor="middle">2.7 ft</text>
<text x="583.78" y="355.46" font-size="9.4" text-anchor="middle">12:49 am</text>
<text x="603.65" y="208.79" font-size="9.4" text-anchor="middle">1.93 m</text>
<text x="603.65" y="198.79" font-size="9.4" text-anchor="middle">6.3 ft</text>
<text x="603.65" y="191.09" font-size="9.4" text-anchor="middle">7:03 am</text>
<text x="623.11" y="327.64" font-size="9.4" text-anchor="middle">0.91 m</text>
<text x="623.11" y="337.84" font-size="9.4" text-anchor="middle">3.0 ft</text>
<text x="623.11" y="347.24" font-size="9.4" text-anchor="middle">1:09 pm</text>
<text x="643.52" y="191.33" font-size="9.4" text-anchor="middle">2.10 m</text>
<text x="643.52" y="181.33" font-size="9.4" text-anchor="middle">6.9 ft</text>
<text x="643.52" y="173.63" font-size="9.4" text-anchor="middle">7:33 pm</text>
<text x="664.35" y="339.97" font-size="9.4" text-anchor="middle">0.79 m</text>
<text x="664.35" y="350.17" font-size="9.4" text-anchor="middle">2.6 ft</text>
<text x="664.35" y="359.57" font-size="9.4" text-anchor="middle">2:05 am</text>
<text x="684.44" y="203.65" font-size="9.4" text-anchor="middle">1.98 m</text>
<text x="684.44" y="193.65" font-size="9.4" text-anchor="middle">6.5 ft</text>
<text x="684.44" y="185.95" font-size="9.4" text-anchor="middle">8:23 am</text>
<text x="396" y="13.2" font-size="16.7" text-anchor="middle" xml:space="preserve">Devil’s Rock: rising  ordinary tide at 1.7m (5.7ft)</text>
<text x="396.8" y="27.6" font-size="11" font-weight="bold" text-anchor="middle">Image captured 2 hours and 31 minutes before high water. Times are WET (UTC +0hrs)</text>
<text x="46.2" y="478.30" font-size="11.1" text-anchor="end">Sunrise</text>
<text x="745.8" y="478.30" font-size="11.1">Sunrise</text>
<text x="46.2" y="492.40" font-size="11.1" text-anchor="end">Sunset</text>
<text x="745.8" y="492.40" font-size="11.1">Sunset</text>
<text x="46.2" y="505.80" font-size="11.1" text-anchor="end">Moonrise</text>
<text x="745.8" y="505.80" font-size="11.1">Moonrise</text>
<text x="46.2" y="519.70" font-size="11.1" text-anchor="end">Moonset</text>
<text x="745.8" y="519.70" font-size="11.1">Moonset</text>
<text x="148.20" y="478.10" font-size="9.4">6:02am</text>
<text x="224.68" y="478.10" font-size="9.4">6:01am</text>
<text x="301.16" y="478.10" font-size="9.4">6:00am</text>
<text x="377.64" y="478.10" font-size="9.4">5:59am</text>
<text x="454.13" y="478.10" font-size="9.4">5:58am</text>
<text x="530.61" y="478.10" font-size="9.4">5:57am</text>
<text x="607.09" y="478.10" font-size="9.4">5:56am</text>
<text x="683.58" y="478.10" font-size="9.4">5:55am</text>
<text x="113.90" y="492.60" font-size="9.4">7:11pm</text>
<text x="190.43" y="492.60" font-size="9.4">7:11pm</text>
<text x="267.02" y="492.60" font-size="9.4">7:12pm</text>
<text x="343.61" y="492.60" font-size="9.4">7:13pm</text>
<text x="420.15" y="492.60" font-size="9.4">7:13pm</text>
<text x="496.74" y="492.60" font-size="9.4">7:14pm</text>
<text x="573.32" y="492.60" font-size="9.4">7:15pm</text>
<text x="649.86" y="492.60" font-size="9.4">7:15pm</text>
<text x="73.61" y="505.20" font-size="9.4">6:33am</text>
<text x="152.27" y="505.20" font-size="9.4">7:13am</text>
<text x="231.14" y="505.20" font-size="9.4">7:57am</text>
<text x="310.23" y="505.20" font-size="9.4">8:45am</text>
<text x="389.48" y="505.20" font-size="9.4">9:36am</text>
<text x="468.88" y="505.20" font-size="9.4">10:30am</text>
<text x="548.40" y="505.20" font-size="9.4">11:26am</text>
<text x="628.02" y="505.20" font-size="9.4">12:24pm</text>
<text x="118.04" y="519.60" font-size="9.4">8:27pm</text>
<text x="197.39" y="519.60" font-size="9.4">9:20pm</text>
<text x="276.63" y="519.60" font-size="9.4">10:11pm</text>
<text x="355.72" y="519.60" font-size="9.4">10:59pm</text>
<text x="434.70" y="519.60" font-size="9.4">11:45pm</text>
<text x="513.47" y="519.60" font-size="9.4">12:27am</text>
<text x="592.13" y="519.60" font-size="9.4">1:07am</text>
<text x="670.69" y="519.60" font-size="9.4">1:45am</text>
<text x="602" y="532.2" font-size="9.4" text-anchor="middle">First Quarter | 9:57am</text>
</svg></body></html>
